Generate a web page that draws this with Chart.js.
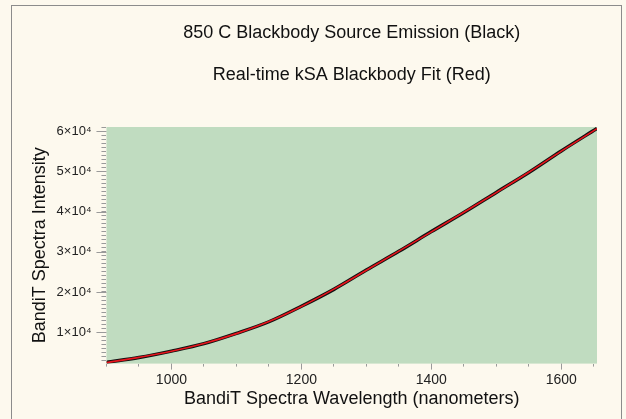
<!DOCTYPE html>
<html lang="en">
<head>
    <meta charset="UTF-8">
    <title>850 C Blackbody Source Emission</title>
    <script src="https://cdn.jsdelivr.net/npm/chart.js@4.4.0/dist/chart.umd.min.js"></script>
    <style>
        html, body {
            margin: 0;
            padding: 0;
            background: #fdf9ee;
            font-family: "Liberation Sans", Arial, sans-serif;
        }
        #frame {
            position: absolute;
            left: 11px;
            top: 5px;
            width: 609px;
            height: 430px;
            border: 1px solid #8c8c8c;
        }
        #wrap {
            position: absolute;
            left: 0;
            top: 0;
            width: 626px;
            height: 419px;
        }
    </style>
</head>
<body>
<div id="frame"></div>
<div id="wrap"><canvas id="myChart"></canvas></div>
<script>
    // wavelength (nm)
    const wavelength = [900, 950, 1000, 1050, 1100, 1150, 1200, 1250, 1300, 1350, 1400, 1450, 1500, 1550, 1600, 1655];
    // measured emission (black)
    const measured = [2500, 3700, 5300, 7150, 9700, 12600, 16450, 20650, 25450, 30100, 35000, 39750, 44750, 49700, 55050, 60650];
    // kSA blackbody fit (red)
    const fitted = [2450, 3750, 5250, 7200, 9650, 12650, 16400, 20700, 25400, 30150, 34950, 39800, 44700, 49750, 55000, 60600];

    // labelled ticks
    const xTickValues = [1000, 1200, 1400, 1600];
    const yTickValues = [10000, 20000, 30000, 40000, 50000, 60000];
    // minor tick spacing
    const xMinorStep = 50;
    const yMinorStep = 1000;

    const TICK_COLOR = '#9a9a9a';
    const FONT = '"Liberation Sans", Arial, sans-serif';

    const isTick = (list, v) => list.some(t => Math.abs(t - v) < 1e-6);

    function minorTicks(scale, step) {
        const ticks = [];
        const start = Math.ceil(scale.min / step) * step;
        for (let v = start; v <= scale.max + 1e-6; v += step) {
            ticks.push({value: v});
        }
        scale.ticks = ticks;
    }

    // green plot background
    const plotBackground = {
        id: 'plotBackground',
        beforeDraw(chart) {
            const {ctx, chartArea} = chart;
            ctx.save();
            ctx.fillStyle = '#c0dcc0';
            ctx.fillRect(chartArea.left, chartArea.top, chartArea.right - chartArea.left, chartArea.bottom - chartArea.top);
            ctx.restore();
        }
    };

    // longer marks on the labelled ticks
    const majorTicks = {
        id: 'majorTicks',
        afterDraw(chart) {
            const {ctx, chartArea} = chart;
            const xs = chart.scales.x, ys = chart.scales.y;
            ctx.save();
            ctx.strokeStyle = TICK_COLOR;
            ctx.lineWidth = 1;
            ctx.beginPath();
            yTickValues.forEach(v => {
                const py = Math.round(ys.getPixelForValue(v)) + 0.5;
                ctx.moveTo(chartArea.left - 10, py);
                ctx.lineTo(chartArea.left, py);
            });
            xTickValues.forEach(v => {
                const px = Math.round(xs.getPixelForValue(v)) + 0.5;
                ctx.moveTo(px, chartArea.bottom);
                ctx.lineTo(px, chartArea.bottom + 6);
            });
            ctx.stroke();
            ctx.restore();
        }
    };

    const ctx = document.getElementById('myChart');
    new Chart(ctx, {
        type: 'line',
        data: {
            datasets: [{
                label: 'Real-time kSA Blackbody Fit',
                data: wavelength.map((w, i) => ({x: w, y: fitted[i]})),
                borderColor: '#e8141c',
                borderWidth: 1.6,
                pointRadius: 0,
                cubicInterpolationMode: 'monotone',
                order: 0
            }, {
                label: '850 C Blackbody Source Emission',
                data: wavelength.map((w, i) => ({x: w, y: measured[i]})),
                borderColor: '#111111',
                borderWidth: 3.5,
                pointRadius: 0,
                cubicInterpolationMode: 'monotone',
                order: 1
            }]
        },
        options: {
            responsive: true,
            maintainAspectRatio: false,
            animation: false,
            layout: {
                padding: {left: 29, right: 29, top: 12, bottom: 10}
            },
            scales: {
                x: {
                    type: 'linear',
                    min: 900,
                    max: 1655,
                    afterBuildTicks: scale => minorTicks(scale, xMinorStep),
                    grid: {
                        drawOnChartArea: false,
                        tickLength: 3,
                        tickColor: TICK_COLOR
                    },
                    border: {display: false},
                    ticks: {
                        autoSkip: false,
                        maxRotation: 0,
                        padding: 5,
                        color: '#222',
                        font: {family: FONT, size: 14},
                        callback: v => isTick(xTickValues, v) ? String(v) : ''
                    },
                    title: {
                        display: true,
                        text: 'BandiT Spectra Wavelength (nanometers)',
                        color: '#111',
                        padding: {top: -5, bottom: -1},
                        font: {family: FONT, size: 18}
                    }
                },
                y: {
                    type: 'linear',
                    min: 2200,
                    max: 61000,
                    afterBuildTicks: scale => minorTicks(scale, yMinorStep),
                    grid: {
                        drawOnChartArea: false,
                        tickLength: 5,
                        tickColor: TICK_COLOR
                    },
                    border: {display: false},
                    ticks: {
                        autoSkip: false,
                        padding: 10,
                        color: '#222',
                        font: {family: FONT, size: 13},
                        callback: v => isTick(yTickValues, v) ? Math.round(v / 10000) + '×10⁴' : ''
                    },
                    title: {
                        display: true,
                        text: 'BandiT Spectra Intensity',
                        color: '#111',
                        padding: {top: 0, bottom: -4},
                        font: {family: FONT, size: 18}
                    }
                }
            },
            plugins: {
                legend: {display: false},
                tooltip: {enabled: false},
                title: {
                    display: true,
                    fullSize: false,
                    text: ['850 C Blackbody Source Emission (Black)', 'Real-time kSA Blackbody Fit (Red)'],
                    color: '#111',
                    padding: {top: 0, bottom: 31},
                    font: {family: FONT, size: 18, weight: 'normal', lineHeight: '42px'}
                }
            }
        },
        plugins: [plotBackground, majorTicks]
    });
</script>
</body>
</html>
